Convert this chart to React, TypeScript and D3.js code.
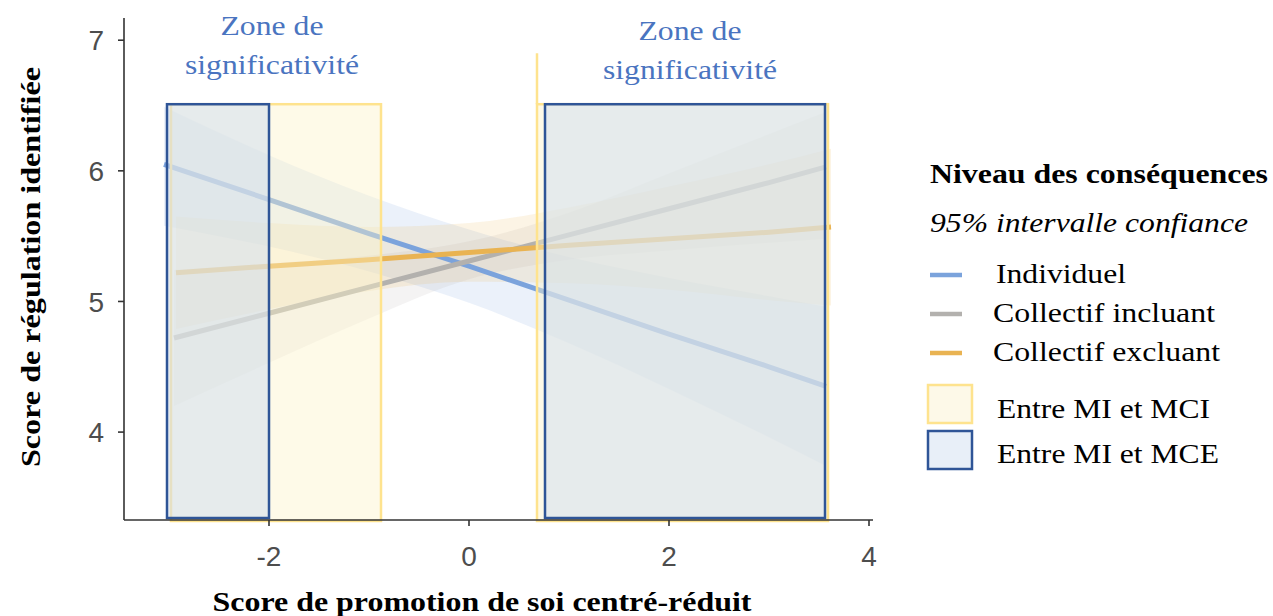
import React from 'react';
import * as d3 from 'd3';

// ---------- data ----------
const xTicks = [-2, 0, 2, 4];
const yTicks = [4, 5, 6, 7];

const seriesNames = ['Individuel', 'Collectif incluant', 'Collectif excluant'];

const indivX = [-3.05, -2, -1, 0, 1, 2, 3, 3.57];
const indivFit = [6.05, 5.78, 5.52, 5.27, 5.01, 4.75, 4.5, 4.35];
const indivLow = [5.58, 5.42, 5.23, 4.99, 4.68, 4.33, 3.96, 3.74];
const indivHigh = [6.49, 6.12, 5.81, 5.55, 5.34, 5.18, 5.04, 4.96];

const inclX = [-2.95, -2, -1, 0, 1, 2, 3, 3.57];
const inclFit = [4.72, 4.91, 5.11, 5.31, 5.51, 5.71, 5.91, 6.03];
const inclLow = [4.2, 4.53, 4.87, 5.17, 5.32, 5.39, 5.45, 5.48];
const inclHigh = [5.24, 5.29, 5.35, 5.46, 5.68, 5.98, 6.28, 6.45];

const exclX = [-2.93, -2, -1, 0, 1, 2, 3, 3.62];
const exclFit = [5.22, 5.27, 5.32, 5.375, 5.43, 5.48, 5.53, 5.57];
const exclLow = [4.79, 4.94, 5.08, 5.15, 5.14, 5.09, 5.01, 4.97];
const exclHigh = [5.65, 5.6, 5.57, 5.6, 5.72, 5.88, 6.05, 6.17];

// significance zones (x ranges)
const zoneMCI = [[-2.98, -0.88], [0.68, 3.59]];
const zoneMCE = [[-3.02, -2.0], [0.76, 3.56]];
const zoneTopValue = 6.51;
const zoneMarkerTop = 6.9;

const zoneLabelLines = ['Zone de', 'significativité'];
const legendTitle = 'Niveau des conséquences';
const legendSubtitle = '95% intervalle confiance';
const zoneLegend = ['Entre MI et MCI', 'Entre MI et MCE'];
const xTitle = 'Score de promotion de soi centré-réduit';
const yTitle = 'Score de régulation identifiée';

// ---------- styles ----------
const colors = ['#7ba3dc', '#b3b1ae', '#e9b352'];
const yellowStroke = '#fee38e';
const yellowFill = 'rgba(253,243,200,0.42)';
const blueStroke = '#2f5597';
const blueFill = 'rgba(210,222,238,0.55)';
const annColor = '#4a74c0';
const serif = '"Liberation Serif", "Times New Roman", serif';
const sansNarrow = '"Liberation Sans Narrow", "Liberation Sans", Arial, sans-serif';
const fit = 'spacingAndGlyphs';

export default function App() {
  const W = 1273, H = 616;
  const x = d3.scaleLinear().domain([-3.45, 4.04]).range([124, 873]);
  const y = d3.scaleLinear().domain([3.327, 7.17]).range([520, 18]);

  const series = [
    { name: seriesNames[0], xs: indivX, fit: indivFit, lo: indivLow, hi: indivHigh, color: colors[0] },
    { name: seriesNames[1], xs: inclX, fit: inclFit, lo: inclLow, hi: inclHigh, color: colors[1] },
    { name: seriesNames[2], xs: exclX, fit: exclFit, lo: exclLow, hi: exclHigh, color: colors[2] },
  ];

  const area = (s: any) =>
    d3.area<number>()
      .x((_, i) => x(s.xs[i]))
      .y0((_, i) => y(s.lo[i]))
      .y1((_, i) => y(s.hi[i]))
      .curve(d3.curveMonotoneX)(s.xs);
  const line = (s: any) =>
    d3.line<number>()
      .x((_, i) => x(s.xs[i]))
      .y((_, i) => y(s.fit[i]))(s.xs);

  const axisColor = '#333333';
  const tickText = '#4d4d4d';
  const zoneTop = y(zoneTopValue);

  const legendX = 930;
  const seriesLabelX = [996, 993, 993];
  const seriesLabelLen = [130, 222, 227];
  const legendLineY = [275, 314, 353];

  return (
    <svg width={W} height={H} style={{ position: 'absolute', left: 0, top: 0, background: '#fff' }}>
      {/* ribbons */}
      {series.map((s) => (
        <path key={'r' + s.name} d={area(s) || ''} fill={s.color} fillOpacity={0.15} stroke="none" />
      ))}
      {/* fit lines */}
      {series.map((s) => (
        <path key={'l' + s.name} d={line(s) || ''} fill="none" stroke={s.color} strokeWidth={5} />
      ))}

      {/* yellow zones */}
      {zoneMCI.map((z, i) => (
        <rect key={'y' + i} x={x(z[0])} y={zoneTop} width={x(z[1]) - x(z[0])} height={521 - zoneTop}
          fill={yellowFill} stroke={yellowStroke} strokeWidth={2.5} />
      ))}
      <line x1={x(zoneMCI[1][0])} x2={x(zoneMCI[1][0])} y1={y(zoneMarkerTop)} y2={zoneTop}
        stroke={yellowStroke} strokeWidth={2.5} />
      {/* blue zones */}
      {zoneMCE.map((z, i) => (
        <rect key={'b' + i} x={x(z[0])} y={zoneTop} width={x(z[1]) - x(z[0])} height={518 - zoneTop}
          fill={blueFill} stroke={blueStroke} strokeWidth={2.5} />
      ))}

      {/* zone annotations */}
      {[-1.97, 2.21].map((cx, i) => (
        <g key={'a' + i}>
          <text x={x(cx)} y={i === 0 ? 35 : 40} textAnchor="middle" fill={annColor}
            fontFamily={serif} fontSize={28} textLength={103} lengthAdjust={fit}>{zoneLabelLines[0]}</text>
          <text x={x(cx)} y={i === 0 ? 74 : 79} textAnchor="middle" fill={annColor}
            fontFamily={serif} fontSize={28} textLength={174} lengthAdjust={fit}>{zoneLabelLines[1]}</text>
        </g>
      ))}

      {/* y axis */}
      <line x1={124} x2={124} y1={18} y2={520} stroke={axisColor} strokeWidth={1.6} />
      {yTicks.map((t) => (
        <g key={'yt' + t}>
          <line x1={118} x2={124} y1={y(t)} y2={y(t)} stroke={axisColor} strokeWidth={1.6} />
          <text x={104} y={y(t)} dy="0.36em" textAnchor="end" fill={tickText} fontFamily={sansNarrow} fontSize={28}>{t}</text>
        </g>
      ))}
      {/* x axis */}
      <line x1={124} x2={873} y1={520} y2={520} stroke={axisColor} strokeWidth={1.6} />
      {xTicks.map((t) => (
        <g key={'xt' + t}>
          <line x1={x(t)} x2={x(t)} y1={520} y2={526} stroke={axisColor} strokeWidth={1.6} />
          <text x={x(t)} y={566} textAnchor="middle" fill={tickText} fontFamily={sansNarrow} fontSize={28}>{t}</text>
        </g>
      ))}

      {/* axis titles */}
      <text x={482} y={611} textAnchor="middle" fontFamily={serif} fontWeight="bold" fontSize={28} fill="#000"
        textLength={539} lengthAdjust={fit}>{xTitle}</text>
      <text transform={`translate(40,267) rotate(-90)`} textAnchor="middle" fontFamily={serif} fontWeight="bold" fontSize={28} fill="#000"
        textLength={400} lengthAdjust={fit}>{yTitle}</text>

      {/* legend */}
      <text x={legendX} y={183} fontFamily={serif} fontWeight="bold" fontSize={27} fill="#000"
        textLength={338} lengthAdjust={fit}>{legendTitle}</text>
      <text x={legendX} y={232} fontFamily={serif} fontStyle="italic" fontSize={27} fill="#000"
        textLength={318} lengthAdjust={fit}>{legendSubtitle}</text>
      {series.map((s, i) => {
        const ly = legendLineY[i];
        return (
          <g key={'lg' + i}>
            <line x1={legendX} x2={legendX + 32} y1={ly} y2={ly} stroke={s.color} strokeWidth={4.5} />
            <text x={seriesLabelX[i]} y={ly + 8} fontFamily={serif} fontSize={27} fill="#000"
              textLength={seriesLabelLen[i]} lengthAdjust={fit}>{s.name}</text>
          </g>
        );
      })}
      <rect x={928} y={385} width={44} height={38} fill="#fdf9e8" stroke={yellowStroke} strokeWidth={2.5} />
      <text x={997} y={418} fontFamily={serif} fontSize={27} fill="#000" textLength={213} lengthAdjust={fit}>{zoneLegend[0]}</text>
      <rect x={928} y={431} width={44} height={38} fill="#e8eff8" stroke={blueStroke} strokeWidth={2.5} />
      <text x={997} y={463} fontFamily={serif} fontSize={27} fill="#000" textLength={222} lengthAdjust={fit}>{zoneLegend[1]}</text>
    </svg>
  );
}
